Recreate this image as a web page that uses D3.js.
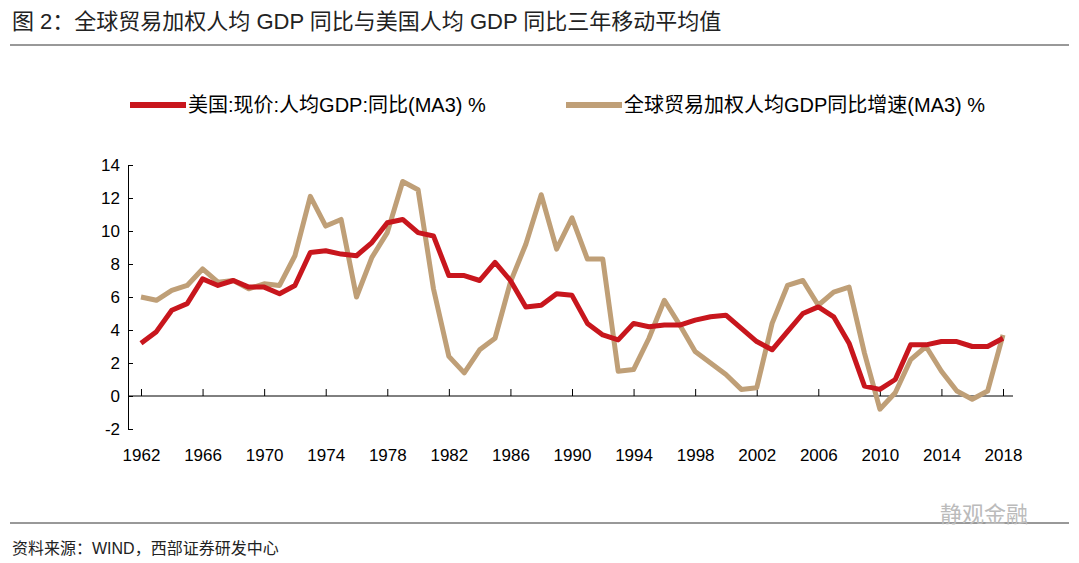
<!DOCTYPE html>
<html><head><meta charset="utf-8">
<script src="https://cdn.jsdelivr.net/npm/d3@7"></script>
<style>body{margin:0;background:#fff}svg{font-family:Arial,"Liberation Sans","Noto Sans CJK SC",sans-serif}</style>
</head><body><svg id="c" width="1079" height="563"></svg>
<script>
const years = d3.range(1962, 2019)
const usVals = [3.2,3.9,5.2,5.6,7.1,6.7,7.0,6.6,6.6,6.2,6.7,8.7,8.8,8.6,8.5,9.3,10.5,10.7,9.9,9.7,7.3,7.3,7.0,8.1,7.0,5.4,5.5,6.2,6.1,4.4,3.7,3.4,4.4,4.2,4.3,4.3,4.6,4.8,4.9,4.1,3.3,2.8,3.9,5.0,5.4,4.8,3.2,0.6,0.4,1.0,3.1,3.1,3.3,3.3,3.0,3.0,3.5]
const worldVals = [6.0,5.8,6.4,6.7,7.7,6.9,7.0,6.5,6.8,6.7,8.5,12.1,10.3,10.7,6.0,8.4,9.9,13.0,12.5,6.5,2.4,1.4,2.8,3.5,6.9,9.2,12.2,8.9,10.8,8.3,8.3,1.5,1.6,3.5,5.8,4.3,2.7,2.0,1.3,0.4,0.5,4.4,6.7,7.0,5.5,6.3,6.6,2.6,-0.8,0.2,2.2,3.0,1.5,0.3,-0.2,0.3,3.7]
const yTicks = [-2,0,2,4,6,8,10,12,14]
const xTicks = d3.range(1962, 2019, 4)
const series = [
  {name: '美国:现价:人均GDP:同比(MA3) %', vals: usVals, color: '#c8161d'},
  {name: '全球贸易加权人均GDP同比增速(MA3) %', vals: worldVals, color: '#bf9f77'}
]

const svg = d3.select('#c')
const x = d3.scaleLinear().domain([1962, 2018]).range([141, 1003])
const y = d3.scaleLinear().domain([-2, 14]).range([429, 165])

svg.append('text').attr('x', 12).attr('y', 29).attr('font-size', 22).attr('fill', '#222')
  .text('图 2：全球贸易加权人均 GDP 同比与美国人均 GDP 同比三年移动平均值')
svg.append('line').attr('x1', 10).attr('x2', 1069).attr('y1', 45).attr('y2', 45).attr('stroke', '#333')
svg.append('line').attr('x1', 10).attr('x2', 1069).attr('y1', 523).attr('y2', 523).attr('stroke', '#333')
svg.append('text').attr('x', 12).attr('y', 554).attr('font-size', 16).attr('fill', '#222')
  .text('资料来源：WIND，西部证券研发中心')
svg.append('text').attr('x', 940).attr('y', 522).attr('font-size', 22).attr('fill', '#bbb').text('静观金融')

// y axis
const yAx = svg.append('g').attr('transform', 'translate(128,0)')
  .call(d3.axisLeft(y).tickValues(yTicks).tickFormat(d => String(d)).tickSize(-5).tickPadding(8))
yAx.selectAll('text').attr('font-size', 17).attr('fill', '#000')
yAx.select('.domain').attr('stroke', '#000')

// x axis at zero
const xAx = svg.append('g').attr('transform', `translate(0,${y(0)})`)
  .call(d3.axisBottom(x).tickValues(xTicks).tickFormat(d3.format('d')).tickSize(-7).tickSizeOuter(0))
xAx.select('.domain').attr('d', `M128,0H1013`).attr('stroke', '#000')
xAx.selectAll('text').attr('font-size', 17).attr('fill', '#000').attr('y', 0)
  .attr('transform', `translate(0,${y(-2) - y(0) + 20})`)

const line = d3.line().x((d, i) => x(years[i])).y(d => y(d))
series.slice().reverse().forEach(s => {
  svg.append('path').attr('d', line(s.vals)).attr('fill', 'none')
    .attr('stroke', s.color).attr('stroke-width', 5).attr('stroke-linejoin', 'round')
})

const leg = svg.append('g')
series.forEach((s, i) => {
  const lx = [130, 566][i]
  leg.append('line').attr('x1', lx).attr('x2', lx + 56).attr('y1', 105).attr('y2', 105)
    .attr('stroke', s.color).attr('stroke-width', 6)
  leg.append('text').attr('x', lx + 58).attr('y', 112).attr('font-size', 20).text(s.name)
})
</script></body></html>
